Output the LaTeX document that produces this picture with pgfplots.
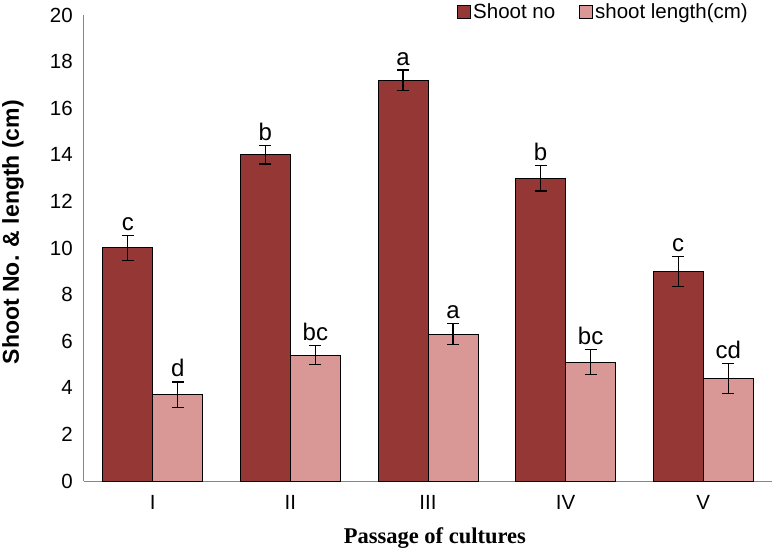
\documentclass[border=0pt]{standalone}
\usepackage{fontspec}
\setmainfont{Liberation Sans}
\newfontfamily\timesfont{Liberation Serif}
\usepackage{pgfplots}
\usepackage{pgfplotstable}
\pgfplotsset{compat=1.18}

\definecolor{darkred}{HTML}{953735}
\definecolor{lightred}{HTML}{D99795}
\definecolor{axisgray}{HTML}{868686}

% passage, mean, error, letter
\pgfplotstableread{
x no errno labno len errlen lablen
0 10.0 0.55 c 3.7 0.55 d
1 14.0 0.40 b 5.4 0.41 bc
2 17.2 0.44 a 6.3 0.45 a
3 13.0 0.55 b 5.1 0.54 bc
4 9.0 0.65 c 4.4 0.64 cd
}\passages

\begin{document}
\begin{tikzpicture}
\path[use as bounding box] (-84bp,-68bp) rectangle (689bp,481bp);
\begin{axis}[
    at={(0,0)}, anchor=south west,
    scale only axis,
    width=688bp, height=466bp,
    ybar=0pt, bar width=50bp,
    ymin=0, ymax=20, ytick={0,2,...,20},
    xmin=-0.5, xmax=4.5,
    xtick={0,1,2,3,4},
    xticklabels={I,II,III,IV,V},
    axis x line=bottom, axis y line=left,
    axis line style={axisgray, line width=1bp, -},
    major tick length=0pt,
    tick label style={font=\fontsize{20.5bp}{24bp}\selectfont},
    /pgf/number format/assume math mode=true,
    yticklabel style={anchor=east, inner sep=0pt, xshift=-11bp},
    xticklabel style={anchor=north, inner sep=0pt, yshift=-14bp},
    ylabel={\bfseries Shoot No. \& length (cm)},
    every axis y label/.style={at={(axis description cs:-0.1032,0.534)}, rotate=90, anchor=center,
        font=\fontsize{23bp}{26bp}\selectfont},
    xlabel={\timesfont\bfseries Passage of cultures},
    every axis x label/.style={at={(axis description cs:0.51,-0.135)}, anchor=base,
        font=\fontsize{22.5bp}{26bp}\selectfont},
    legend columns=2,
    legend style={at={(axis description cs:0.968,1.006)}, anchor=east,
        draw=none, fill=none, inner sep=0pt,
        font=\fontsize{20.5bp}{24bp}\selectfont,
        nodes={inner sep=2bp},
        /tikz/every even column/.append style={column sep=22bp}},
    legend image code/.code={\draw[#1, line width=0.8bp] (0bp,-6.5bp) rectangle (13bp,6.5bp);},
    error bars/error bar style={black, line width=1.3bp},
    error bars/error mark options={rotate=90, mark size=6bp, line width=1.3bp, black},
    nodes near coords,
    point meta=explicit symbolic,
    every node near coord/.append style={font=\fontsize{24bp}{28bp}\selectfont, black,
        anchor=base, inner sep=0pt, yshift=\errshift pt},
    clip=false,
]
\addplot[fill=darkred, draw=black, line width=1bp,
    error bars/.cd, y dir=both, y explicit]
    table[x=x, y=no, y error=errno, meta=labno,
      visualization depends on={23.39*\thisrow{errno}+5 \as \errshift}] {\passages};
\addplot[fill=lightred, draw=black, line width=1bp,
    error bars/.cd, y dir=both, y explicit]
    table[x=x, y=len, y error=errlen, meta=lablen,
      visualization depends on={23.39*\thisrow{errlen}+5 \as \errshift}] {\passages};
\legend{Shoot no, shoot length(cm)}
\end{axis}
\end{tikzpicture}
\end{document}
